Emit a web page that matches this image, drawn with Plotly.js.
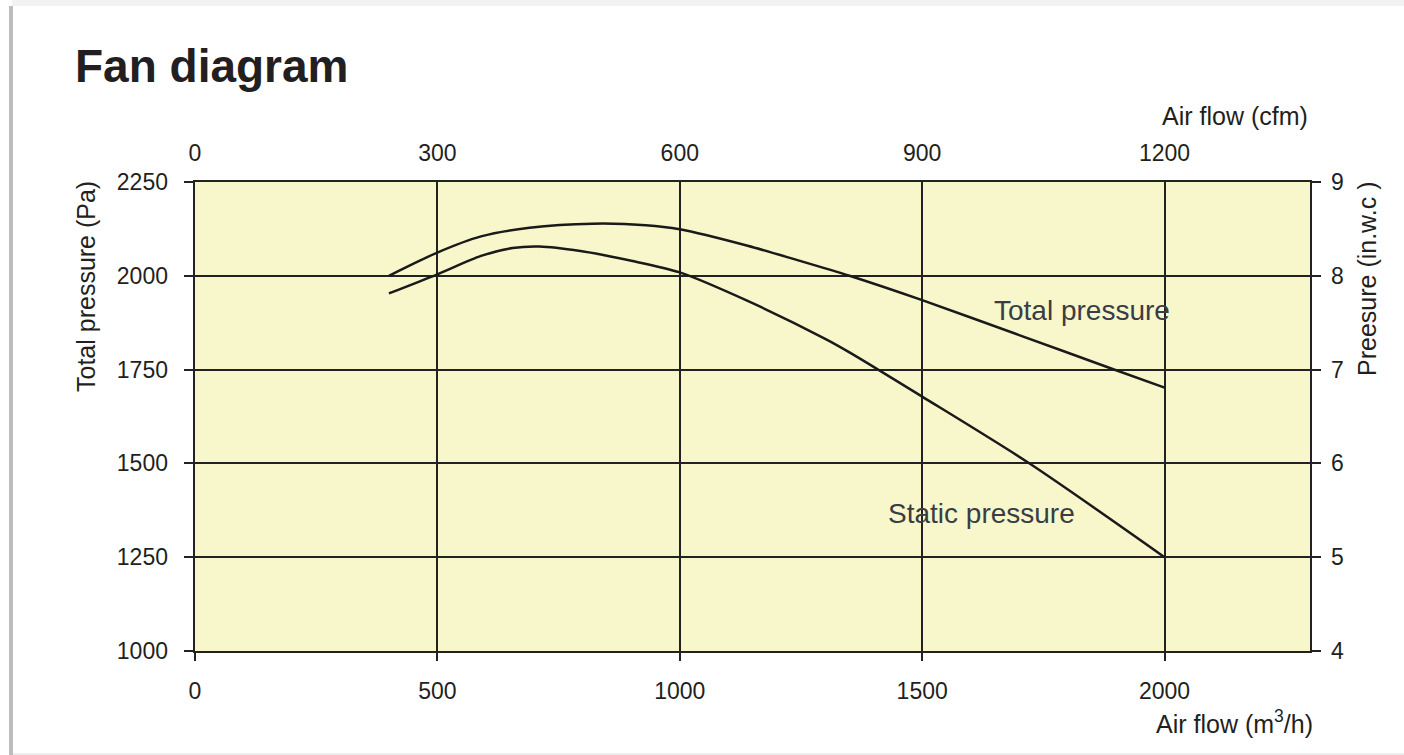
<!DOCTYPE html>
<html>
<head>
<meta charset="utf-8">
<script src="https://cdn.plot.ly/plotly-3.0.1.min.js"></script>
<style>
  html, body { margin: 0; padding: 0; background: #ffffff; }
  #chart { width: 1404px; height: 755px; }
</style>
</head>
<body>
<div id="chart"></div>
<script>
// ---- data ----
const totalFlow = [400, 500, 590, 690, 820, 930, 1000, 1140, 1250, 1350, 1500, 1700, 1890, 2000];
const totalPa   = [2000, 2062, 2105, 2128, 2139, 2135, 2124, 2080, 2039, 2000, 1935, 1842, 1753, 1702];
const staticFlow = [400, 500, 590, 655, 710, 795, 900, 1000, 1140, 1300, 1350, 1500, 1720, 2000];
const staticPa   = [1953, 2004, 2053, 2074, 2078, 2066, 2040, 2009, 1933, 1832, 1796, 1678, 1501, 1250];

const m3hTicks = [0, 500, 1000, 1500, 2000];
const cfmTicks = [0, 300, 600, 900, 1200];
const paTicks  = [1000, 1250, 1500, 1750, 2000, 2250];
const inwcTicks = [4, 5, 6, 7, 8, 9];

const seriesNames = ['Total pressure', 'Static pressure'];

// ---- layout helpers (plot area 195..1310 x 182..651 px) ----
const L = 195, R = 1310, T = 182, B = 651;
const px = v => (v - L) / (R - L);
const py = v => (B - v) / (B - T);

const FONT = 'Liberation Sans, Arial, sans-serif';
const INK = '#222222';
const TXT = '#231f20';

const lineStyle = { color: '#1a1a1a', width: 2.5, shape: 'spline', smoothing: 0.8 };

const traces = [
  { x: totalFlow, y: totalPa, mode: 'lines', name: seriesNames[0], line: lineStyle, hoverinfo: 'x+y' },
  { x: staticFlow, y: staticPa, mode: 'lines', name: seriesNames[1], line: lineStyle, hoverinfo: 'x+y' },
  { x: [0], y: [4], xaxis: 'x2', yaxis: 'y2', mode: 'markers', marker: { opacity: 0 }, showlegend: false, hoverinfo: 'skip' }
];

const tickFont = { family: FONT, size: 23, color: TXT };
const titleFont = { family: FONT, size: 25, color: TXT };

const layout = {
  width: 1404, height: 755,
  margin: { l: L, r: 1404 - R, t: T, b: 755 - B, pad: 0 },
  paper_bgcolor: '#ffffff',
  plot_bgcolor: '#f8f7cb',
  showlegend: false,
  xaxis: {
    range: [0, 2300], tickvals: m3hTicks, ticktext: m3hTicks.map(String),
    showgrid: true, gridcolor: INK, gridwidth: 2,
    zeroline: false, showline: true, linecolor: INK, linewidth: 2.4,
    ticks: 'outside', ticklen: 8, tickwidth: 2, tickcolor: INK,
    ticklabelstandoff: 10, tickfont: tickFont, fixedrange: true
  },
  yaxis: {
    range: [1000, 2250], tickvals: paTicks, ticktext: paTicks.map(String),
    showgrid: true, gridcolor: INK, gridwidth: 2,
    zeroline: false, showline: true, linecolor: INK, linewidth: 2.4,
    ticks: 'outside', ticklen: 9, tickwidth: 2, tickcolor: INK,
    ticklabelstandoff: 11, tickfont: tickFont, fixedrange: true
  },
  xaxis2: {
    overlaying: 'x', side: 'top', anchor: 'y2',
    range: [0, 1380], tickvals: cfmTicks, ticktext: cfmTicks.map(String),
    showgrid: false, zeroline: false, showline: true, linecolor: INK, linewidth: 2.4,
    ticks: '', ticklabelstandoff: 9, tickfont: tickFont, fixedrange: true
  },
  yaxis2: {
    overlaying: 'y', side: 'right', anchor: 'x2',
    range: [4, 9], tickvals: inwcTicks, ticktext: inwcTicks.map(String),
    showgrid: false, zeroline: false, showline: true, linecolor: INK, linewidth: 2.4,
    ticks: 'outside', ticklen: 9, tickwidth: 2, tickcolor: INK,
    ticklabelstandoff: 5, tickfont: tickFont, fixedrange: true
  },
  annotations: [
    { text: '<b>Fan diagram</b>', xref: 'paper', yref: 'paper', x: px(73), y: py(66),
      xanchor: 'left', yanchor: 'middle', showarrow: false,
      font: { family: FONT, size: 46, color: '#231f20' } },
    { text: 'Total pressure (Pa)', xref: 'paper', yref: 'paper', x: px(86), y: py(287),
      xanchor: 'center', yanchor: 'middle', textangle: -90, showarrow: false, font: titleFont },
    { text: 'Preesure (in.w.c )', xref: 'paper', yref: 'paper', x: px(1367), y: py(279),
      xanchor: 'center', yanchor: 'middle', textangle: -90, showarrow: false, font: titleFont },
    { text: 'Air flow (cfm)', xref: 'paper', yref: 'paper', x: px(1310), y: py(116),
      xanchor: 'right', yanchor: 'middle', showarrow: false, font: titleFont },
    { text: 'Air flow (m<sup>3</sup>/h)', xref: 'paper', yref: 'paper', x: px(1315), y: py(722),
      xanchor: 'right', yanchor: 'middle', showarrow: false, font: titleFont },
    { text: seriesNames[0], xref: 'x', yref: 'y', x: 1829, y: 1907,
      xanchor: 'center', yanchor: 'middle', showarrow: false,
      font: { family: FONT, size: 28, color: '#3a3d44' } },
    { text: seriesNames[1], xref: 'x', yref: 'y', x: 1623, y: 1367,
      xanchor: 'center', yanchor: 'middle', showarrow: false,
      font: { family: FONT, size: 28, color: '#3a3d44' } }
  ],
  shapes: [
    { type: 'rect', xref: 'paper', yref: 'paper', x0: px(12), x1: px(1404), y0: py(0), y1: py(6),
      fillcolor: '#f2f2f2', line: { width: 0 }, layer: 'below' },
    { type: 'line', xref: 'paper', yref: 'paper', x0: px(11), x1: px(11), y0: py(6), y1: py(755),
      line: { color: '#bdbdbd', width: 4 } },
    { type: 'line', xref: 'paper', yref: 'paper', x0: px(13), x1: px(1404), y0: py(754), y1: py(754),
      line: { color: '#ededed', width: 2 } }
  ]
};

Plotly.newPlot('chart', traces, layout, { displayModeBar: false, staticPlot: true });
</script>
</body>
</html>
